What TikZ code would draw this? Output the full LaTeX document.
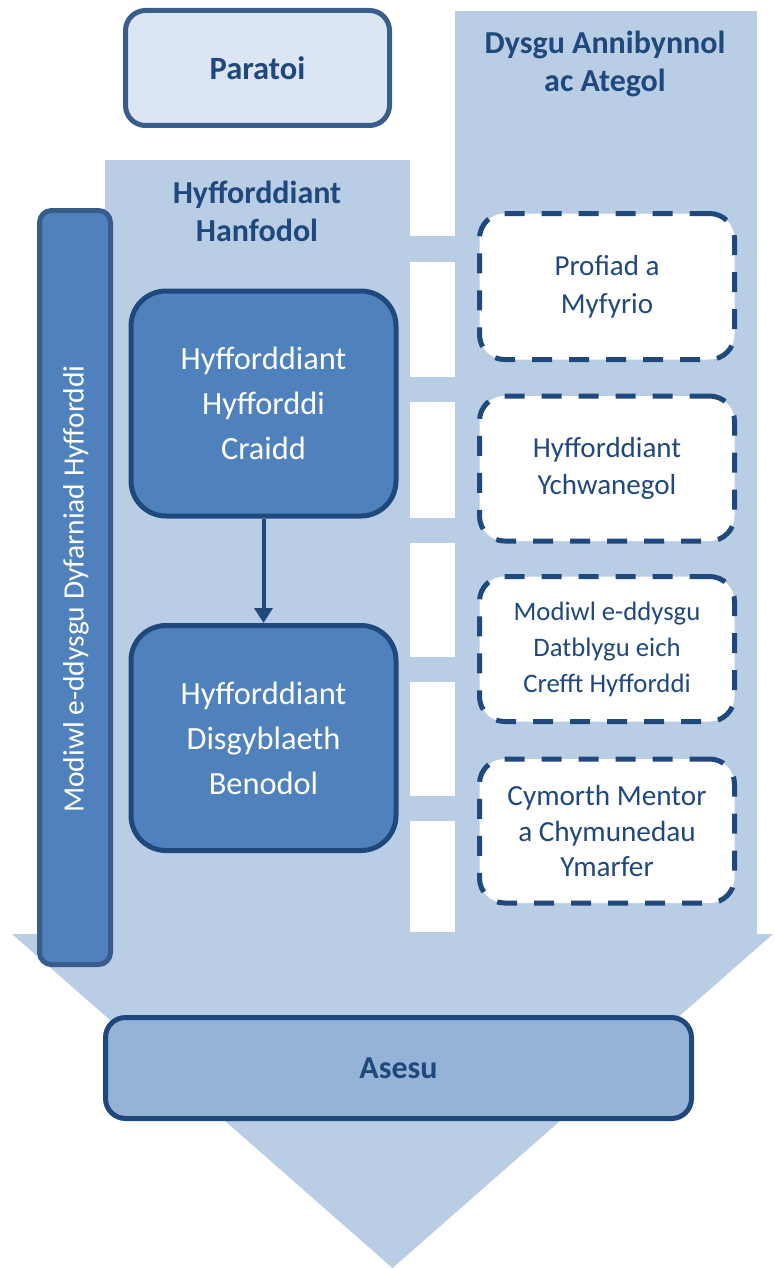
\documentclass[tikz,border=0pt]{standalone}
\usepackage{fontspec}
\setmainfont{Carlito}
\usetikzlibrary{arrows.meta}
\definecolor{bgblue}{HTML}{B9CDE5}
\definecolor{paleblue}{HTML}{DCE6F2}
\definecolor{midblue}{HTML}{4F81BD}
\definecolor{softblue}{HTML}{95B3D7}
\definecolor{edgeblue}{HTML}{385D8A}
\definecolor{darkblue}{HTML}{1F497D}
\tikzset{
  paratoibox/.style={draw=edgeblue, line width=5pt, fill=paleblue, rounded corners=20pt,
    minimum width=264pt, minimum height=115pt, text=darkblue,
    font=\fontsize{32.5}{38}\selectfont\bfseries},
  titletext/.style={text=darkblue, align=center, font=\fontsize{32}{38}\selectfont\bfseries},
  vbarbox/.style={draw=edgeblue, line width=5pt, fill=midblue, rounded corners=12pt,
    minimum width=71pt, minimum height=754pt},
  corebox/.style={draw=darkblue, line width=5pt, fill=midblue, rounded corners=35pt,
    minimum width=265pt, minimum height=225pt, text=white, align=center,
    font=\fontsize{32.4}{45}\selectfont},
  dashbox/.style={draw=darkblue, line width=5pt, fill=white, rounded corners=25pt,
    dash pattern=on 20pt off 17pt, minimum width=255pt, text=darkblue, align=center},
  asesubox/.style={draw=darkblue, line width=5pt, fill=softblue, rounded corners=20pt,
    minimum width=586pt, minimum height=101pt, text=darkblue,
    font=\fontsize{32}{38}\selectfont\bfseries},
  flowarrow/.style={draw=darkblue, line width=4pt, -{Triangle[length=15pt,width=18pt]}}
}
\begin{document}
\begin{tikzpicture}[x=1pt,y=-1pt]
\useasboundingbox (0,0) rectangle (774,1268);
% background arrow shape
\fill[bgblue] (105,160) rectangle (410,934);
\fill[bgblue] (455,11) rectangle (757,934);
\foreach \ya/\yb in {236/262,377/402,518/543,657/682,796/821,932/935}
  \fill[bgblue] (405,\ya) rectangle (460,\yb);
\fill[bgblue] (12,934) -- (773,934) -- (392.5,1268) -- cycle;

% top
\node[paratoibox] (paratoi) at (257.5,68) {Paratoi};
\node[titletext] (annibynnol) at (605,64) {Dysgu Annibynnol\\ac Ategol};
\node[titletext] (hanfodol) at (257,211) {Hyfforddiant\\Hanfodol};

% vertical bar
\node[vbarbox] (vbar) at (75,587.5) {};
\node[text=white, rotate=90, font=\fontsize{29.5}{34}\selectfont] (vtext) at (76,589)
  {Modiwl e-ddysgu Dyfarniad Hyfforddi};

% core boxes
\node[corebox] (craidd) at (263.5,403.5) {Hyfforddiant\\Hyfforddi\\Craidd};
\node[corebox] (benodol) at (263.5,738) {Hyfforddiant\\Disgyblaeth\\Benodol};
\draw[flowarrow] (craidd.south) -- (benodol.north);

% dashed boxes
\node[dashbox, minimum height=146pt, font=\fontsize{29}{38}\selectfont] (profiad) at (607,286.5) {Profiad a\\Myfyrio};
\node[dashbox, minimum height=145pt, font=\fontsize{29}{37}\selectfont] (ychwanegol) at (607,468.5) {Hyfforddiant\\Ychwanegol};
\node[dashbox, minimum height=145pt, font=\fontsize{26.7}{36}\selectfont] (modiwl) at (607,649) {Modiwl e-ddysgu\\Datblygu eich\\Crefft Hyfforddi};
\node[dashbox, minimum height=144pt, font=\fontsize{29.2}{35.5}\selectfont] (cymorth) at (607,831) {Cymorth Mentor\\a Chymunedau\\Ymarfer};

% assessment
\node[asesubox] (asesu) at (398.5,1068) {Asesu};
\end{tikzpicture}
\end{document}
